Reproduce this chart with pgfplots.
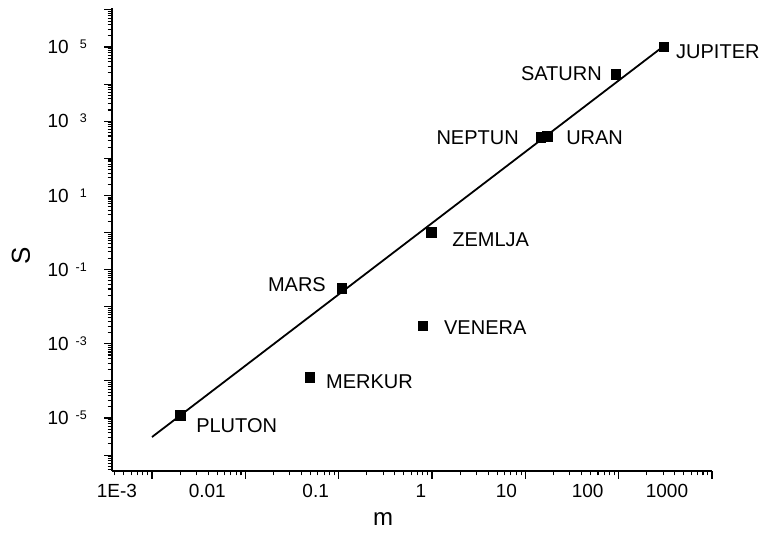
\documentclass[border=0pt]{standalone}
\usepackage{pgfplots}
\pgfplotsset{compat=1.18}
\usepackage{fontspec}
\setmainfont{Liberation Sans}

\def\xminor{1e-9}
\foreach \e in {-4,...,2}{\foreach \m in {2,...,9}{\xdef\xminor{\xminor,\m e\e}}}
\def\yminor{1e-9}
\foreach \e in {-7,...,5}{\foreach \m in {2,...,9}{\xdef\yminor{\yminor,\m e\e}}}

\newcommand\yl[1]{10\hspace{7pt}\raisebox{5pt}{\fontsize{12.5}{12.5}\selectfont #1}}
\newcommand\xl[2]{\makebox[0pt]{\hspace*{#1}#2}}
\newcommand\pfont{\fontsize{20}{20}\selectfont}

\begin{document}
\begin{tikzpicture}
\useasboundingbox (-112pt,-70pt) rectangle (654pt,471pt);
\begin{axis}[
  at={(0,0)}, anchor=south west,
  scale only axis, width=600pt, height=463pt,
  xmode=log, ymode=log,
  xmin=3.73e-4, xmax=1000, ymin=3.73e-7, ymax=1.125e6,
  axis x line*=bottom, axis y line*=left,
  axis line style={line width=1.7pt, black},
  tick align=outside,
  major tick length=8pt, minor tick length=4.5pt,
  tick style={line width=1.1pt, black},
  xtick={1e-3,1e-2,1e-1,1,10,100,1000},
  xticklabels={\xl{-70pt}{1E-3},\xl{-76pt}{0.01},\xl{-46pt}{0.1},\xl{-22pt}{1},\xl{-38pt}{10},\xl{-62pt}{100},\xl{-90pt}{1000}},
  minor xtick/.expanded={\xminor},
  ytick={1e-6,1e-5,1e-4,1e-3,1e-2,1e-1,1,1e1,1e2,1e3,1e4,1e5,1e6},
  yticklabels={{},\yl{-5},{},\yl{-3},{},\yl{-1},{},\yl{\phantom{-}1},{},\yl{\phantom{-}3},{},\yl{\phantom{-}5},{}},
  minor ytick/.expanded={\yminor},
  tick label style={font=\fontsize{19}{19}\selectfont, inner sep=0pt},
  xticklabel style={anchor=north, yshift=-5pt},
  yticklabel style={anchor=east, xshift=-17pt},
  xlabel={m}, ylabel={S},
  every axis x label/.style={at={(axis description cs:0.452,-0.1037)}, anchor=center, font=\fontsize{24}{24}\selectfont},
  every axis y label/.style={at={(axis description cs:-0.1517,0.464)}, anchor=center, rotate=90, font=\fontsize{26}{26}\selectfont},
  clip=false,
]
\addplot[black, line width=1.8pt] coordinates {(0.001,3.07e-6) (306,1.07e5)};
\addplot[only marks, mark=square*, mark size=4.7pt, black] coordinates {
  (0.0020,1.2e-5) (0.0493,1.27e-4) (0.1086,0.0319) (0.80,0.00302) (0.98,1.03)
  (14.7,375) (17.1,399) (93.6,18700) (306,1e5)
};
\node[anchor=west, inner sep=0pt, font=\pfont, xshift=12pt, yshift=-5pt] at (axis cs:306,1e5) {JUPITER};
\node[anchor=east, inner sep=0pt, font=\pfont, xshift=-14pt] at (axis cs:93.6,18700) {SATURN};
\node[anchor=east, inner sep=0pt, font=\pfont, xshift=-22pt, yshift=-1pt] at (axis cs:14.7,375) {NEPTUN};
\node[anchor=west, inner sep=0pt, font=\pfont, xshift=19pt, yshift=-1.5pt] at (axis cs:17.1,399) {URAN};
\node[anchor=west, inner sep=0pt, font=\pfont, xshift=21pt, yshift=-8pt] at (axis cs:0.98,1.03) {ZEMLJA};
\node[anchor=east, inner sep=0pt, font=\pfont, xshift=-16pt, yshift=3pt] at (axis cs:0.1086,0.0319) {MARS};
\node[anchor=west, inner sep=0pt, font=\pfont, xshift=21pt, yshift=-2pt] at (axis cs:0.80,0.00302) {VENERA};
\node[anchor=west, inner sep=0pt, font=\pfont, xshift=16pt, yshift=-5pt] at (axis cs:0.0493,1.27e-4) {MERKUR};
\node[anchor=west, inner sep=0pt, font=\pfont, xshift=16pt, yshift=-11pt] at (axis cs:0.0020,1.2e-5) {PLUTON};
\end{axis}
\end{tikzpicture}
\end{document}
